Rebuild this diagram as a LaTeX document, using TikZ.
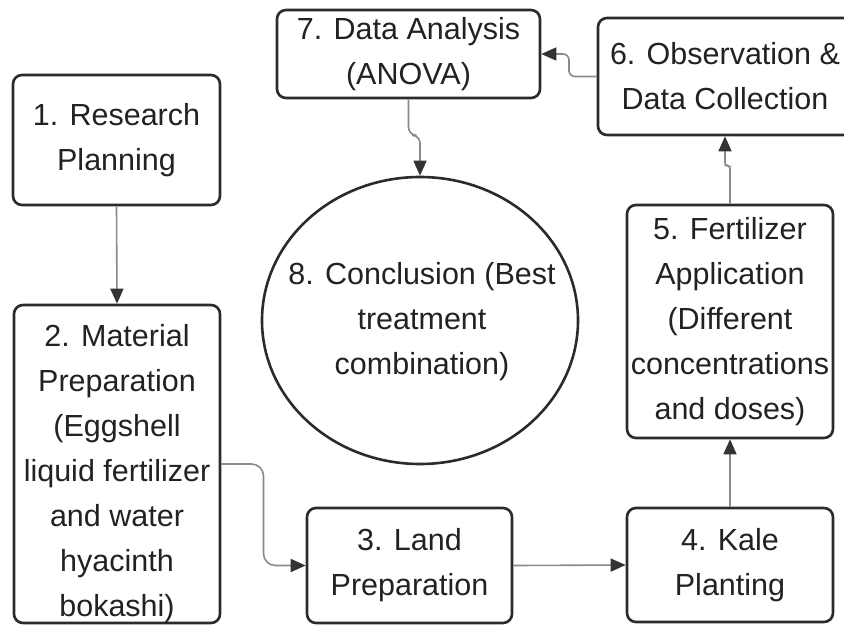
\documentclass[tikz,border=0pt]{standalone}
\usepackage{fontspec}
\setmainfont{Liberation Sans}
\usetikzlibrary{arrows.meta,shapes.geometric,calc}
\definecolor{boxc}{HTML}{2B2B2B}
\definecolor{textc}{HTML}{222222}
\definecolor{linec}{HTML}{8A8A8A}
\definecolor{tipc}{HTML}{333333}
\tikzset{
  box/.style={draw=boxc, line width=2.6pt, rounded corners=9pt, fill=white,
    align=center, inner sep=0pt, text=textc,
    font=\fontsize{30.5}{45}\selectfont},
  boxtext/.style={align=center, inner sep=0pt, text=textc,
    font=\fontsize{30.5}{45}\selectfont},
  conn/.style={draw=linec, line width=1.6pt,
    -{Triangle[length=15pt,width=13pt,color=tipc]}},
}
\begin{document}
\begin{tikzpicture}[x=1pt,y=-1pt]
\useasboundingbox (0,0) rectangle (844,625);
\fill[white] (0,0) rectangle (844,625);

\node[box, minimum width=207pt, minimum height=130pt] (n1) at (116.5,140) {1. Research\\Planning};
\node[box, minimum width=206pt, minimum height=318pt] (n2) at (117,464) {};
\node[boxtext] (n2t) at (117,474) {2. Material\\Preparation\\(Eggshell\\liquid fertilizer\\and water\\hyacinth\\bokashi)};
\node[box, minimum width=205pt, minimum height=115pt] (n3) at (409.5,565.5) {3. Land\\Preparation};
\node[box, minimum width=206pt, minimum height=114pt] (n4) at (730,565) {4. Kale\\Planting};
\node[box, minimum width=206pt, minimum height=233pt] (n5) at (730,321.5) {5. Fertilizer\\Application\\(Different\\concentrations\\and doses)};
\node[box, minimum width=254pt, minimum height=117pt] (n6) at (725,76.5) {6. Observation \&\\Data Collection};
\node[box, minimum width=263pt, minimum height=88pt] (n7) at (408.5,54) {7. Data Analysis\\(ANOVA)};
\node[ellipse, draw=boxc, line width=2.6pt, fill=white, inner sep=0pt,
  minimum width=316pt, minimum height=287pt] (n8) at (420,320.5) {};
\node[boxtext] (n8t) at (422,322) {8. Conclusion (Best\\treatment\\combination)};

\draw[conn] (n1.south) -- (n2.north);
\draw[conn, rounded corners=12pt] (n2.east) -| ($(n2.east)!0.5!(n3.west)$) |- (n3.west);
\draw[conn] (n3.east) -- (n4.west);
\draw[conn] (n4.north) -- (n5.south);
\draw[conn, rounded corners=3pt] (n5.north) -- ++(0,-38) -| (n6.south);
\draw[conn, rounded corners=6pt] (n6.west) -| ($(n6.west)!0.5!(n7.east)$) |- (n7.east);
\draw[conn, rounded corners=8pt] (n7.south) -- ++(0,36) -| (n8.north);
\end{tikzpicture}
\end{document}
